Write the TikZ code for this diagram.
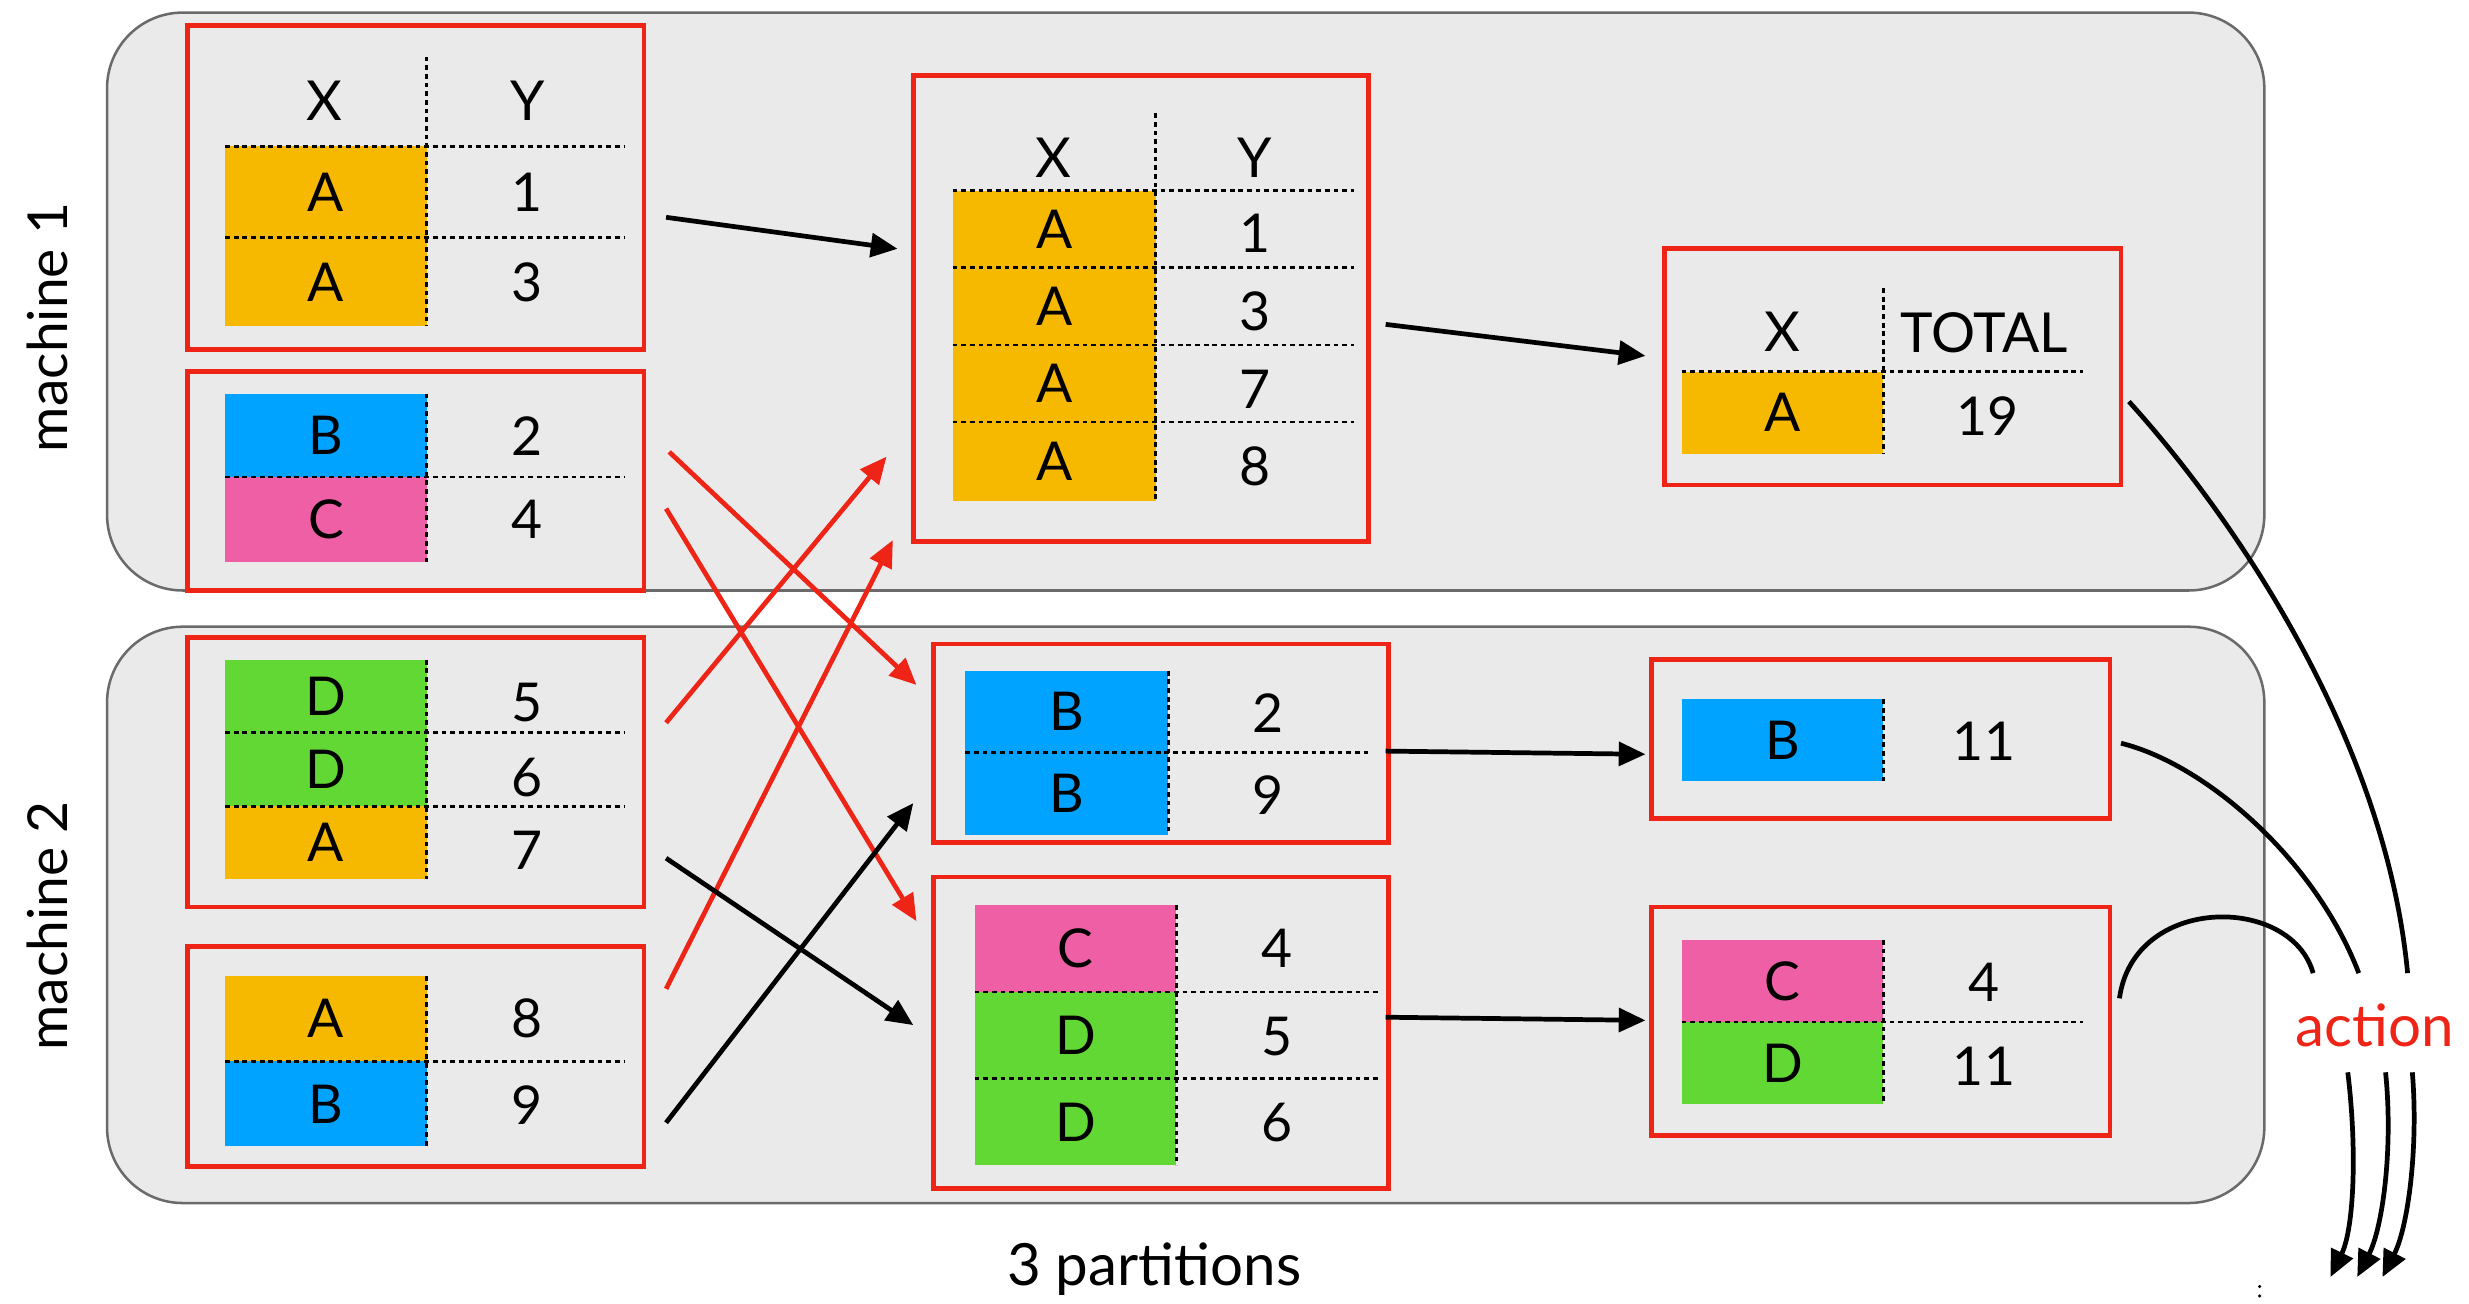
\documentclass[tikz,border=0pt]{standalone}
\usepackage{fontspec}
\setmainfont{Lato}
\usetikzlibrary{arrows.meta,calc}
\definecolor{cA}{HTML}{F6B900}
\definecolor{cB}{HTML}{00A3FF}
\definecolor{cC}{HTML}{EE5FA6}
\definecolor{cD}{HTML}{62D835}
\definecolor{myred}{HTML}{EE2417}
\definecolor{mgray}{HTML}{EAEAEA}
\definecolor{mborder}{HTML}{6A6A6A}
\newcommand\cfnt{\fontsize{34}{40}\selectfont}
\newcommand\hfnt{\fontsize{35}{40}\selectfont}
\newcommand\lfnt{\fontsize{35}{40}\selectfont}
\newcommand\pfnt{\fontsize{37}{42}\selectfont}
\tikzset{
  mach/.style={fill=mgray, draw=mborder, line width=1.6pt, rounded corners=48pt},
  redbox/.style={draw=myred, line width=3pt, anchor=north west, inner sep=0pt, outer sep=0pt},
  cellbox/.style={anchor=north west, inner sep=0pt, outer sep=0pt, font=\cfnt},
  val/.style={font=\cfnt, inner sep=0pt},
  hdr/.style={font=\hfnt, inner sep=0pt},
  dline/.style={dash pattern=on 3pt off 2.5pt, line width=1.7pt},
  karrow/.style={-{Triangle[length=17pt,width=15pt]}, line width=3pt},
  rarrow/.style={-{Triangle[length=17pt,width=15pt]}, line width=3pt, draw=myred},
  curve/.style={line width=3pt},
}
\begin{document}
\begin{tikzpicture}[x=1pt,y=-1pt]
\useasboundingbox (0,0) rectangle (1568,828);
\fill[white] (0,0) rectangle (1568,828);

% machines
\draw[mach] (68,8) rectangle (1438,375);
\draw[mach] (68,398) rectangle (1438,764);
\node[rotate=90, font=\lfnt] (m1) at (30,208) {machine 1};
\node[rotate=90, font=\lfnt] (m2) at (30,588) {machine 2};
\node[font=\pfnt] (parts) at (733,806) {3 partitions};
\node[font=\pfnt, text=myred, inner sep=0pt] (action) at (1508,651) {action};

% ---- T1
\node[redbox, minimum width=290pt, minimum height=206pt] (t1) at (119,16) {};
\node[cellbox, fill=cA, minimum width=128pt, minimum height=58pt] (t1a) at (143,93) {A};
\node[cellbox, fill=cA, minimum width=128pt, minimum height=56pt] (t1b) at (143,151) {A};
\draw[dline] (271,36) -- (271,207);
\draw[dline] (143,93) -- (397,93);
\draw[dline] (143,151) -- (397,151);
\node[hdr] (t1hx) at (206,64) {X};
\node[hdr] (t1hy) at (335,64) {Y};
\node[val] (t1v1) at (335,122) {1};
\node[val] (t1v2) at (335,179) {3};

% ---- T2
\node[redbox, minimum width=290pt, minimum height=139pt] (t2) at (119,236) {};
\node[cellbox, fill=cB, minimum width=128pt, minimum height=53pt] (t2a) at (143,250) {B};
\node[cellbox, fill=cC, minimum width=128pt, minimum height=54pt] (t2b) at (143,303) {C};
\draw[dline] (271,250) -- (271,357);
\draw[dline] (143,303) -- (397,303);
\node[val] (t2v1) at (335,277) {2};
\node[val] (t2v2) at (335,330) {4};

% ---- T3
\node[redbox, minimum width=290pt, minimum height=171pt] (t3) at (119,405) {};
\node[cellbox, fill=cD, minimum width=128pt, minimum height=46pt] (t3a) at (143,419) {D};
\node[cellbox, fill=cD, minimum width=128pt, minimum height=47pt] (t3b) at (143,465) {D};
\node[cellbox, fill=cA, minimum width=128pt, minimum height=46pt] (t3c) at (143,512) {A};
\draw[dline] (271,419) -- (271,558);
\draw[dline] (143,465) -- (397,465);
\draw[dline] (143,512) -- (397,512);
\node[val] (t3v1) at (335,446) {5};
\node[val] (t3v2) at (335,494) {6};
\node[val] (t3v3) at (335,540) {7};

% ---- T4
\node[redbox, minimum width=290pt, minimum height=140pt] (t4) at (119,601) {};
\node[cellbox, fill=cA, minimum width=128pt, minimum height=54pt] (t4a) at (143,620) {A};
\node[cellbox, fill=cB, minimum width=128pt, minimum height=54pt] (t4b) at (143,674) {B};
\draw[dline] (271,620) -- (271,728);
\draw[dline] (143,674) -- (397,674);
\node[val] (t4v1) at (335,647) {8};
\node[val] (t4v2) at (335,702) {9};

% ---- T5
\node[redbox, minimum width=289pt, minimum height=296pt] (t5) at (580,48) {};
\node[cellbox, fill=cA, minimum width=129pt, minimum height=49pt] (t5a) at (605,121) {A};
\node[cellbox, fill=cA, minimum width=129pt, minimum height=49pt] (t5b) at (605,170) {A};
\node[cellbox, fill=cA, minimum width=129pt, minimum height=49pt] (t5c) at (605,219) {A};
\node[cellbox, fill=cA, minimum width=129pt, minimum height=50pt] (t5d) at (605,268) {A};
\draw[dline] (734,72) -- (734,318);
\draw[dline] (605,121) -- (860,121);
\draw[dline] (605,170) -- (860,170);
\draw[dline] (605,219) -- (860,219);
\draw[dline] (605,268) -- (860,268);
\node[hdr] (t5hx) at (669,100) {X};
\node[hdr] (t5hy) at (797,100) {Y};
\node[val] (t5v1) at (797,148) {1};
\node[val] (t5v2) at (797,198) {3};
\node[val] (t5v3) at (797,247) {7};
\node[val] (t5v4) at (797,296) {8};

% ---- T6
\node[redbox, minimum width=289pt, minimum height=126pt] (t6) at (593,409) {};
\node[cellbox, fill=cB, minimum width=129pt, minimum height=52pt] (t6a) at (613,426) {B};
\node[cellbox, fill=cB, minimum width=129pt, minimum height=52pt] (t6b) at (613,478) {B};
\draw[dline] (742,426) -- (742,530);
\draw[dline] (613,478) -- (870,478);
\node[val] (t6v1) at (805,453) {2};
\node[val] (t6v2) at (805,505) {9};

% ---- T7
\node[redbox, minimum width=289pt, minimum height=198pt] (t7) at (593,557) {};
\node[cellbox, fill=cC, minimum width=128pt, minimum height=55pt] (t7a) at (619,575) {C};
\node[cellbox, fill=cD, minimum width=128pt, minimum height=55pt] (t7b) at (619,630) {D};
\node[cellbox, fill=cD, minimum width=128pt, minimum height=55pt] (t7c) at (619,685) {D};
\draw[dline] (747,575) -- (747,740);
\draw[dline] (619,630) -- (875,630);
\draw[dline] (619,685) -- (875,685);
\node[val] (t7v1) at (811,602) {4};
\node[val] (t7v2) at (811,658) {5};
\node[val] (t7v3) at (811,713) {6};

% ---- T8
\node[redbox, minimum width=290pt, minimum height=150pt] (t8) at (1057,158) {};
\node[cellbox, fill=cA, minimum width=128pt, minimum height=52pt] (t8a) at (1068,236) {A};
\draw[dline] (1196,183) -- (1196,288);
\draw[dline] (1068,236) -- (1323,236);
\node[hdr] (t8hx) at (1132,211) {X};
\node[hdr] (t8hy) at (1260,211) {TOTAL};
\node[val] (t8v1) at (1262,264) {19};

% ---- T9
\node[redbox, minimum width=291pt, minimum height=101pt] (t9) at (1049,419) {};
\node[cellbox, fill=cB, minimum width=128pt, minimum height=52pt] (t9a) at (1068,444) {B};
\draw[dline] (1196,444) -- (1196,496);
\node[val] (t9v1) at (1260,471) {11};

% ---- T10
\node[redbox, minimum width=291pt, minimum height=145pt] (t10) at (1049,576) {};
\node[cellbox, fill=cC, minimum width=128pt, minimum height=52pt] (t10a) at (1068,597) {C};
\node[cellbox, fill=cD, minimum width=128pt, minimum height=52pt] (t10b) at (1068,649) {D};
\draw[dline] (1196,597) -- (1196,701);
\draw[dline] (1068,649) -- (1323,649);
\node[val] (t10v1) at (1260,624) {4};
\node[val] (t10v2) at (1260,677) {11};

% ---- arrows
\draw[karrow] ($(t1.north east)+(14,122)$) -- ($(t5.north west)+(-10,110)$);
\draw[rarrow] ($(t2.north east)+(16,51)$) -- ($(t6.north west)+(-11,26)$);
\draw[rarrow] ($(t2.north east)+(14,87)$) -- ($(t7.north west)+(-11,28)$);
\draw[rarrow] ($(t3.north east)+(14,54)$) -- ($(t5.north west)+(-17,242)$);
\draw[rarrow] ($(t4.north east)+(14,27)$) -- ($(t5.north west)+(-13,295)$);
\draw[karrow] ($(t3.north east)+(14,140)$) -- ($(t7.north west)+(-13,94)$);
\draw[karrow] ($(t4.north east)+(14,112)$) -- ($(t6.north west)+(-13,101)$);
\draw[karrow] ($(t5.north east)+(11,158)$) -- ($(t8.north west)+(-12,68)$);
\draw[karrow] ($(t6.north east)+(-2,68)$) -- ($(t9.north west)+(-4,60)$);
\draw[karrow] ($(t7.north east)+(-2,89)$) -- ($(t10.north west)+(-4,72)$);

% ---- curves into action
\draw[curve] ($(t8.north east)+(5,97)$) .. controls (1420,330) and (1515,470) .. ($(action)+(21,-33)$);
\draw[curve] ($(t9.north east)+(7,53)$) .. controls (1400,485) and (1470,545) .. ($(action)+(-10,-33)$);
\draw[curve] ($(t10.north east)+(6,58)$) .. controls (1355,568) and (1455,568) .. ($(action)+(-39,-33)$);

\coordinate (o1) at (1480,811);
\coordinate (o2) at (1497,811);
\coordinate (o3) at (1513,811);
\draw[karrow] ($(action)+(-17,30)$) .. controls (1497,730) and (1495,780) .. (o1);
\draw[karrow] ($(action)+(7,30)$) .. controls (1520,730) and (1513,780) .. (o2);
\draw[karrow] ($(action)+(24,30)$) .. controls (1536,730) and (1529,780) .. (o3);

\fill (1435,817) circle (1.1);
\fill (1435,823) circle (1.1);
\end{tikzpicture}
\end{document}
